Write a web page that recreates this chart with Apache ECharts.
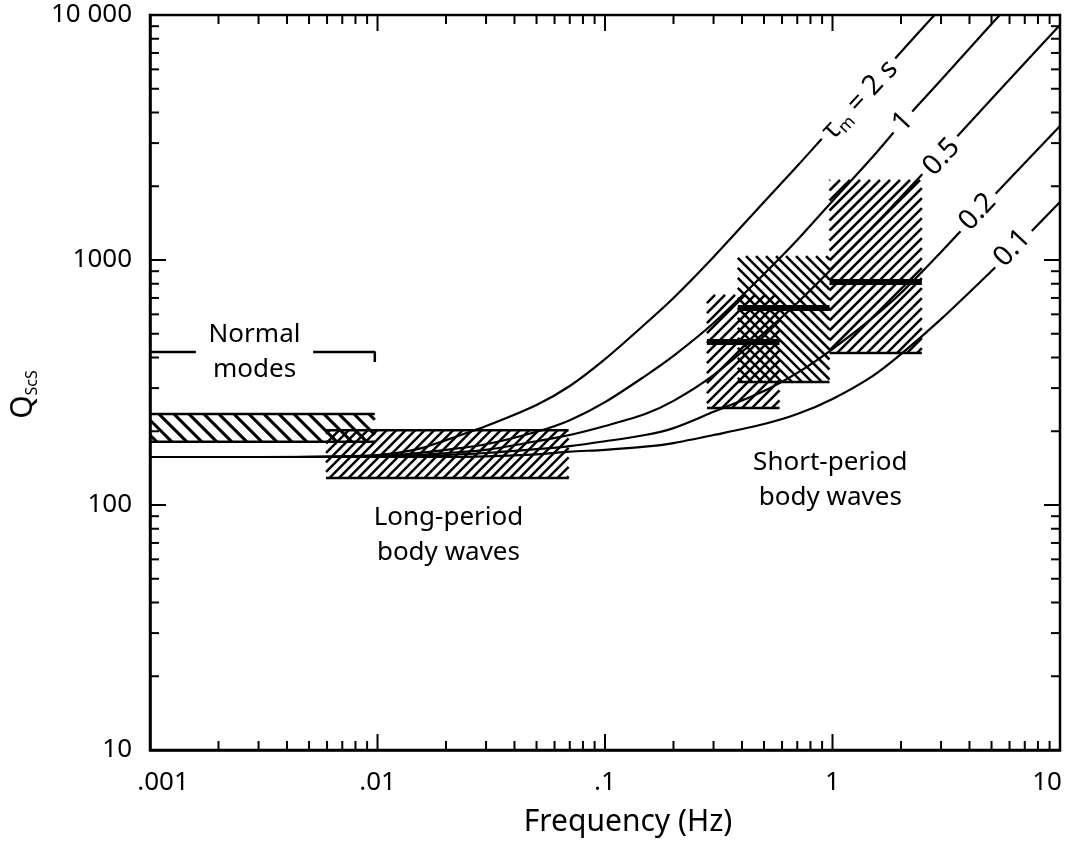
<!DOCTYPE html>
<html>
<head>
<meta charset="utf-8">
<script src="https://cdn.jsdelivr.net/npm/echarts@6/dist/echarts.min.js"></script>
<style>
  html, body { margin: 0; padding: 0; background: #fff; }
  #chart { width: 1087px; height: 846px; }
</style>
</head>
<body>
<div id="chart"></div>
<script>
// Axis decades and their printed labels
const xTickValues = [0.001, 0.01, 0.1, 1, 10];
const xTickLabels = ['.001', '.01', '.1', '1', '10'];
const yTickValues = [10, 100, 1000, 10000];
const yTickLabels = ['10', '100', '1000', '10 000'];

// Absorption-band Q curves, one per relaxation time τm, sampled at these frequencies (Hz)
const freq  = [0.001, 0.003, 0.01, 0.015, 0.02, 0.03, 0.05, 0.07, 0.1, 0.15, 0.2, 0.3, 0.5, 0.7, 1, 1.5, 2, 3, 5, 7, 10];
const qTau2  = [157, 157, 160, 169, 184, 210, 256, 306, 394, 548, 700, 1029, 1725, 2419, 3490, 5229, 7063, 10700, null, null, null];
const qTau1  = [157, 157, 158, 163, 168, 177, 199, 222, 263, 336, 406, 553, 877, 1207, 1741, 2633, 3589, 5429, 9183, 12900, null];
const qTau05 = [157, 157, 158, 160, 163, 168, 182, 193, 210, 235, 266, 339, 504, 668, 927, 1363, 1808, 2709, 4542, 6368, 9099];
const qTau02 = [157, 157, 157, 158, 160, 163, 169, 174, 182, 193, 206, 240, 292, 346, 433, 580, 733, 1078, 1791, 2489, 3524];
const qTau01 = [157, 157, 157, 157, 157, 158, 161, 165, 168, 173, 179, 193, 214, 235, 271, 336, 413, 574, 902, 1229, 1725];
const tauCurves = [qTau2, qTau1, qTau05, qTau02, qTau01];

// Curve labels (τm values) and where they sit on each curve
const tauNames = ['2 s', '1', '0.5', '0.2', '0.1'];
const tauLabelFreq = [1.32, 2.04, 3.02, 4.34, 6.17];
const tauLabelQ = [4498, 3658, 2633, 1571, 1119];

// Observed Q bands: frequency span, Q span, and the mean Q bar where one is given
const bandFreqLow  = [0.001, 0.00594, 0.2805, 0.3834, 0.97];
const bandFreqHigh = [0.00973, 0.0692, 0.585, 0.97, 2.47];
const bandQLow     = [181, 129, 249, 318, 417];
const bandQHigh    = [235, 202, 720, 1038, 2121];
const bandQMean    = [null, null, 463, 637, 813];

// Bracket over the normal-mode band
const bracketLeftFreq  = [0.001, 0.00159];
const bracketLeftQ     = [421, 421];
const bracketRightFreq = [0.00521, 0.00973, 0.00973];
const bracketRightQ    = [421, 421, 383];

// Text notes
const noteText = ['Normal\nmodes', 'Long-period\nbody waves', 'Short-period\nbody waves'];
const noteFreq = [0.00288, 0.0205, 0.978];
const noteQ    = [419, 75.4, 126.5];

// Hatch style per band: direction, spacing, which edges get a rule
const bandHatchDir = ['back', 'fwd', 'fwd', 'back', 'fwd'];
const bandHatchGap = [15, 9.5, 10, 10, 10];
const bandHatchWidth = [3, 2.5, 2.5, 2.5, 2.5];
const bandTopRule = [true, true, false, false, false];

const FONT = "'Noto Sans', 'Open Sans', sans-serif";
const INK = '#000';

function seg(x1, y1, x2, y2, w) {
  return { type: 'line', shape: { x1, y1, x2, y2 }, style: { stroke: INK, lineWidth: w, lineCap: 'butt' } };
}

function hatch(x0, y0, x1, y1, dir, gap, w) {
  const out = [];
  if (dir === 'fwd') {            // "/" strokes: x + y = k
    for (let k = Math.ceil((x0 + y0) / gap) * gap; k <= x1 + y1; k += gap) {
      const xa = Math.max(x0, k - y1), xb = Math.min(x1, k - y0);
      if (xb > xa) out.push(seg(xa, k - xa, xb, k - xb, w));
    }
  } else {                        // "\" strokes: x - y = k
    for (let k = Math.ceil((x0 - y1) / gap) * gap; k <= x1 - y0; k += gap) {
      const xa = Math.max(x0, y0 + k), xb = Math.min(x1, y1 + k);
      if (xb > xa) out.push(seg(xa, xa - k, xb, xb - k, w));
    }
  }
  return out;
}

function renderBand(params, api) {
  const i = params.dataIndex;
  const tl = api.coord([api.value(0), api.value(3)]);
  const br = api.coord([api.value(1), api.value(2)]);
  const x0 = tl[0], y0 = tl[1], x1 = br[0], y1 = br[1];
  const kids = hatch(x0, y0, x1, y1, bandHatchDir[i], bandHatchGap[i], bandHatchWidth[i]);
  kids.push(seg(x0, y1, x1, y1, 2.5));
  if (bandTopRule[i]) kids.push(seg(x0, y0, x1, y0, 2.5));
  if (bandQMean[i] != null) {
    const ym = api.coord([api.value(0), bandQMean[i]])[1];
    kids.push(seg(x0, ym, x1, ym, 6));
  }
  return { type: 'group', children: kids };
}

function tickSteps(vals) {
  const out = [];
  for (let d = 0; d < vals.length - 1; d++) {
    for (let m = 1; m < 10; m++) out.push([vals[d] * m, m === 1]);
  }
  out.push([vals[vals.length - 1], true]);
  return out;
}

// Log ticks (decades long, 2..9 short) on all four sides, pointing inward
function renderTicks(params, api) {
  const tl = api.coord([xTickValues[0], yTickValues[yTickValues.length - 1]]);
  const br = api.coord([xTickValues[xTickValues.length - 1], yTickValues[0]]);
  const left = tl[0], top = tl[1], right = br[0], bottom = br[1];
  const kids = [];
  tickSteps(xTickValues).forEach(([v, major]) => {
    const x = api.coord([v, yTickValues[0]])[0];
    const len = major ? 16 : 9;
    kids.push(seg(x, bottom, x, bottom - len, 2));
    kids.push(seg(x, top, x, top + len, 2));
  });
  tickSteps(yTickValues).forEach(([v, major]) => {
    const y = api.coord([xTickValues[0], v])[1];
    const len = major ? 16 : 9;
    kids.push(seg(left, y, left + len, y, 2));
    kids.push(seg(right, y, right - len, y, 2));
  });
  return { type: 'group', children: kids };
}

// Multi-line notes placed at data coordinates
function renderNote(params, api) {
  const p = api.coord([api.value(0), api.value(1)]);
  return {
    type: 'text', x: p[0], y: p[1],
    style: {
      text: noteText[params.dataIndex], fill: INK, fontFamily: FONT, fontSize: 26,
      lineHeight: 35, align: 'center', verticalAlign: 'middle'
    }
  };
}

// τm labels set into gaps along each curve
function renderTauLabel(params, api) {
  const i = params.dataIndex;
  const p = api.coord([api.value(0), api.value(1)]);
  const text = i === 0 ? '{t|τ}{m|m}{t| = ' + tauNames[i] + '}' : '{t|' + tauNames[i] + '}';
  return {
    type: 'text', x: p[0], y: p[1], rotation: 47 * Math.PI / 180,
    style: {
      text, align: 'center', verticalAlign: 'middle',
      backgroundColor: '#fff', padding: [0, 6],
      rich: {
        t: { fontFamily: FONT, fontSize: 28, fill: INK, lineHeight: 32 },
        m: { fontFamily: FONT, fontSize: 17, fill: INK, verticalAlign: 'bottom' }
      }
    }
  };
}

const decadeIndex = (v, vals) => Math.round(Math.log10(v) - Math.log10(vals[0]));

const series = [];

series.push({
  type: 'custom', name: 'ticks', coordinateSystem: 'cartesian2d',
  renderItem: renderTicks, data: [[1, 100]], silent: true, clip: false, z: 3
});

series.push({
  type: 'custom', name: 'Q bands', coordinateSystem: 'cartesian2d',
  renderItem: renderBand,
  encode: { x: [0, 1], y: [2, 3] },
  data: bandFreqLow.map((f, i) => [f, bandFreqHigh[i], bandQLow[i], bandQHigh[i]]),
  silent: true, z: 2
});

tauCurves.forEach((qs, c) => {
  series.push({
    type: 'line', name: 'τm = ' + tauNames[c],
    data: freq.map((f, i) => [f, qs[i]]).filter(p => p[1] != null),
    showSymbol: false, symbol: 'none', smooth: 0.3,
    lineStyle: { color: INK, width: 2.2 }, clip: true, silent: true, z: 3
  });
});

[[bracketLeftFreq, bracketLeftQ], [bracketRightFreq, bracketRightQ]].forEach(([fs, qs]) => {
  series.push({
    type: 'line', name: 'normal modes bracket',
    data: fs.map((f, i) => [f, qs[i]]),
    showSymbol: false, symbol: 'none', lineStyle: { color: INK, width: 2.5 }, silent: true, z: 3
  });
});

series.push({
  type: 'custom', name: 'notes', coordinateSystem: 'cartesian2d',
  renderItem: renderNote, encode: { x: 0, y: 1 },
  data: noteFreq.map((f, i) => [f, noteQ[i]]), silent: true, z: 8
});

series.push({
  type: 'custom', name: 'tau labels', coordinateSystem: 'cartesian2d',
  renderItem: renderTauLabel, encode: { x: 0, y: 1 },
  data: tauLabelFreq.map((f, i) => [f, tauLabelQ[i]]), silent: true, z: 10
});

const option = {
  animation: false,
  backgroundColor: '#fff',
  grid: { left: 146, right: 27, top: 15, bottom: 96, show: true, borderColor: INK, borderWidth: 2.5, backgroundColor: 'transparent' },
  xAxis: {
    type: 'log', logBase: 10, min: xTickValues[0], max: xTickValues[xTickValues.length - 1],
    name: 'Frequency (Hz)', nameLocation: 'middle', nameGap: 57,
    nameTextStyle: { fontFamily: FONT, fontSize: 30, color: INK, padding: [0, 0, 0, 46] },
    axisLine: { show: true, lineStyle: { color: INK, width: 2.5 } },
    axisTick: { show: false }, splitLine: { show: false },
    axisLabel: {
      margin: 20, color: INK, fontFamily: FONT, fontSize: 26,
      formatter: v => {
        const i = decadeIndex(v, xTickValues);
        if (i === 0) return '{first|' + xTickLabels[i] + '}';
        if (i === xTickValues.length - 1) return '{last|' + xTickLabels[i] + '}';
        return xTickLabels[i];
      },
      rich: {
        first: { fontFamily: FONT, fontSize: 26, color: INK, padding: [0, 0, 0, 26] },
        last: { fontFamily: FONT, fontSize: 26, color: INK, padding: [0, 26, 0, 0] }
      }
    }
  },
  yAxis: {
    type: 'log', logBase: 10, min: yTickValues[0], max: yTickValues[yTickValues.length - 1],
    name: '{q|Q}{s|ScS}', nameLocation: 'middle', nameGap: 96, nameRotate: 90,
    nameTextStyle: {
      padding: [0, 24, 0, 0],
      rich: {
        q: { fontFamily: FONT, fontSize: 30, color: INK, lineHeight: 34 },
        s: { fontFamily: FONT, fontSize: 16, color: INK, verticalAlign: 'bottom' }
      }
    },
    axisLine: { show: true, lineStyle: { color: INK, width: 2.5 } },
    axisTick: { show: false }, splitLine: { show: false },
    axisLabel: {
      margin: 18, color: INK, fontFamily: FONT, fontSize: 26,
      formatter: v => yTickLabels[decadeIndex(v, yTickValues)]
    }
  },
  series
};

const chart = echarts.init(document.getElementById('chart'), null, { renderer: 'canvas' });
chart.setOption(option);
</script>
</body>
</html>
